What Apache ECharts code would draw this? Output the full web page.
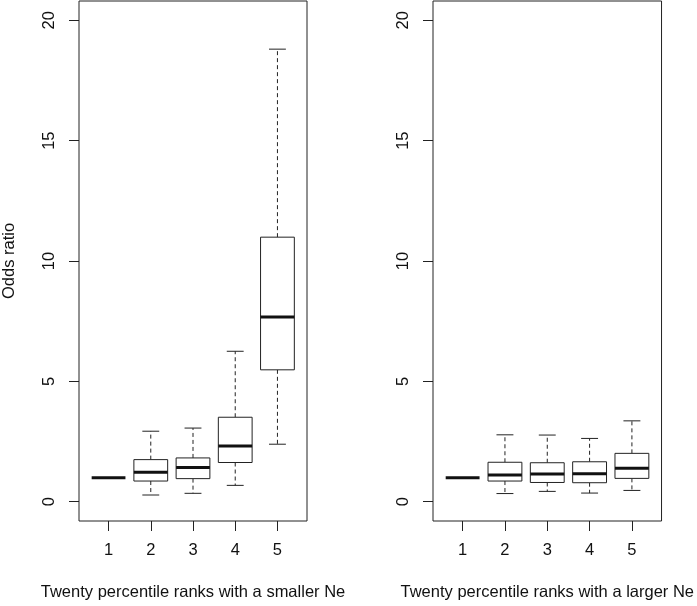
<!DOCTYPE html>
<html><head><meta charset="utf-8">
<script src="https://cdn.jsdelivr.net/npm/echarts@6/dist/echarts.min.js"></script>
<style>html,body{margin:0;padding:0;background:#fff}#c{width:697px;height:606px}</style>
</head><body><div id="c"></div>
<script>
const categories = [1, 2, 3, 4, 5];
const yTicks = [0, 5, 10, 15, 20];

// smaller Ne panel
const smallerMin = [1, 0.28, 0.35, 0.68, 2.39];
const smallerQ1  = [1, 0.86, 0.96, 1.63, 5.48];
const smallerMed = [1, 1.22, 1.42, 2.32, 7.67];
const smallerQ3  = [1, 1.75, 1.82, 3.51, 10.99];
const smallerMax = [1, 2.93, 3.06, 6.25, 18.80];

// larger Ne panel
const largerMin = [1, 0.34, 0.43, 0.36, 0.47];
const largerQ1  = [1, 0.86, 0.80, 0.79, 0.97];
const largerMed = [1, 1.11, 1.15, 1.16, 1.39];
const largerQ3  = [1, 1.64, 1.62, 1.66, 2.01];
const largerMax = [1, 2.78, 2.77, 2.63, 3.36];

const xTitleLeft = 'Twenty percentile ranks with a smaller Ne';
const xTitleRight = 'Twenty percentile ranks with a larger Ne';
const yTitle = 'Odds ratio';

function rows(mn, q1, md, q3, mx) {
  return categories.map((c, i) => [c, mn[i], q1[i], md[i], q3[i], mx[i]]);
}

const INK = '#222';
function renderBox(params, api) {
  const x = api.value(0);
  const v = [1, 2, 3, 4, 5].map(d => api.value(d));
  const p = v.map(val => api.coord([x, val]));
  const cx = p[0][0];
  const bw = api.size([0.8, 0])[0];
  const h = bw / 2, ch = bw / 4;
  const solid = { stroke: INK, lineWidth: 1 };
  const dash = { stroke: INK, lineWidth: 1, lineDash: [4, 3] };
  const children = [];
  if (v[0] !== v[4]) {
    children.push({ type: 'line', shape: { x1: cx, y1: p[3][1], x2: cx, y2: p[4][1] }, style: dash });
    children.push({ type: 'line', shape: { x1: cx, y1: p[1][1], x2: cx, y2: p[0][1] }, style: dash });
    children.push({ type: 'line', shape: { x1: cx - ch, y1: p[4][1], x2: cx + ch, y2: p[4][1] }, style: solid });
    children.push({ type: 'line', shape: { x1: cx - ch, y1: p[0][1], x2: cx + ch, y2: p[0][1] }, style: solid });
    children.push({ type: 'rect', shape: { x: cx - h, y: p[3][1], width: bw, height: p[1][1] - p[3][1] },
      style: { stroke: INK, lineWidth: 1, fill: '#fff' } });
  }
  children.push({ type: 'line', shape: { x1: cx - h, y1: p[2][1], x2: cx + h, y2: p[2][1] },
    style: { stroke: '#111', lineWidth: 3 } });
  return { type: 'group', children };
}

const FONT = 'Liberation Sans, Arial, sans-serif';
const FS = 16.5;
function xAxis(idx, name) {
  return {
    gridIndex: idx, type: 'value', min: 0.3, max: 5.7,
    axisLine: { show: false, onZero: false }, splitLine: { show: false },
    axisTick: { show: true, length: 10, customValues: categories, lineStyle: { color: INK } },
    axisLabel: { customValues: categories, margin: 21, fontSize: FS, color: '#111', fontFamily: FONT },
    name: name, nameLocation: 'middle', nameGap: 63,
    nameTextStyle: { fontSize: FS, color: '#111', fontFamily: FONT }
  };
}
function yAxis(idx, name) {
  return {
    gridIndex: idx, type: 'value', min: -0.8, max: 20.8,
    axisLine: { show: false, onZero: false }, splitLine: { show: false },
    axisTick: { show: true, length: 10, customValues: yTicks, lineStyle: { color: INK } },
    axisLabel: { customValues: yTicks, rotate: 90, margin: 21, fontSize: FS, color: '#111', fontFamily: FONT },
    name: name, nameLocation: 'middle', nameGap: 61, nameRotate: 90,
    nameTextStyle: { fontSize: FS, color: '#111', fontFamily: FONT }
  };
}

const chart = echarts.init(document.getElementById('c'), null, { renderer: 'canvas' });
chart.setOption({
  animation: false,
  backgroundColor: '#fff',
  grid: [
    { left: 77, top: 1, width: 230, height: 523.5, show: true, borderColor: INK, borderWidth: 1, backgroundColor: 'transparent' },
    { left: 433, top: 1, width: 230, height: 523.5, show: true, borderColor: INK, borderWidth: 1, backgroundColor: 'transparent' }
  ],
  xAxis: [xAxis(0, xTitleLeft), xAxis(1, xTitleRight)],
  yAxis: [yAxis(0, yTitle), yAxis(1, '')],
  series: [
    { type: 'custom', xAxisIndex: 0, yAxisIndex: 0, renderItem: renderBox,
      encode: { x: 0, y: [1, 2, 3, 4, 5] },
      data: rows(smallerMin, smallerQ1, smallerMed, smallerQ3, smallerMax) },
    { type: 'custom', xAxisIndex: 1, yAxisIndex: 1, renderItem: renderBox,
      encode: { x: 0, y: [1, 2, 3, 4, 5] },
      data: rows(largerMin, largerQ1, largerMed, largerQ3, largerMax) }
  ]
});
</script>
</body></html>
